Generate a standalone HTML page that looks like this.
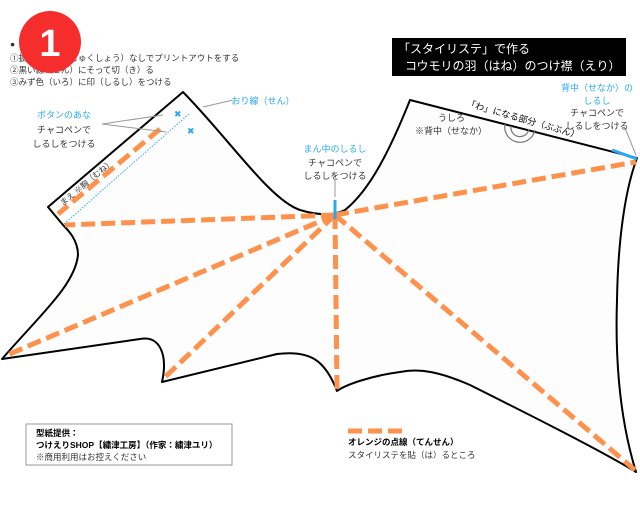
<!DOCTYPE html>
<html><head><meta charset="utf-8"><style>
body{margin:0;background:#fff;}
svg{display:block;font-family:"Liberation Sans","Noto Sans CJK JP",sans-serif;}
</style></head><body>
<svg width="640" height="512" viewBox="0 0 640 512">
<path d="M48,207 L183,92 C230,140 270,200 300,210 C320,216 335,215 345,210 C370,190 390,150 410,100 L637,158 C625,190 618,240 617,300 C615,360 620,420 636,472 C600,450 520,410 470,385 C440,372 420,368 400,372 C370,376 345,385 337,391 C325,360 310,350 277,354 L162,382 C168,355 160,335 140,339 L2,359 C40,315 75,285 78,255 C78,240 68,230 63,225 Z" fill="#fdfdfd" stroke="#000" stroke-width="2" stroke-linejoin="round"/>
<line x1="64" y1="224" x2="190" y2="113" stroke="#2aa8f2" stroke-width="1" stroke-dasharray="1.5,1.5"/>
<g stroke="#fe914c" stroke-width="5" stroke-dasharray="14,6" fill="none">
<line x1="160" y1="129" x2="58" y2="214"/>
<line x1="335" y1="215" x2="65" y2="225"/>
<line x1="335" y1="215" x2="5" y2="356"/>
<line x1="335" y1="215" x2="162" y2="380"/>
<line x1="335" y1="215" x2="337" y2="390"/>
<line x1="335" y1="215" x2="635" y2="470"/>
<line x1="335" y1="215" x2="636" y2="162"/>
<line x1="348" y1="431" x2="404" y2="431"/>
</g>
<line x1="335" y1="200" x2="335" y2="219" stroke="#2aa8f2" stroke-width="3"/>
<line x1="612" y1="150" x2="637" y2="159" stroke="#2aa8f2" stroke-width="3"/>
<text x="174" y="117" font-size="9" fill="#2aa8f2">✖</text>
<text x="187" y="134" font-size="9" fill="#2aa8f2">✖</text>
<g stroke="#999" stroke-width="1">
<line x1="335" y1="180" x2="335" y2="197"/>
<line x1="203" y1="107" x2="233" y2="100"/>
<line x1="102" y1="124" x2="163" y2="115"/>
<line x1="102" y1="124" x2="166" y2="132"/>
<line x1="625" y1="128" x2="636" y2="155"/>
</g>
<path d="M505,124 A15,15 0 0 0 535,130" fill="none" stroke="#777" stroke-width="1.2"/>
<path d="M511,126 A9,9 0 0 0 529,129" fill="none" stroke="#777" stroke-width="1.2"/>
<rect x="392" y="38" width="234" height="38" fill="#000"/>
<text x="398" y="53" font-size="12" fill="#fff">「スタイリステ」で作る</text>
<text x="405" y="70" font-size="12" fill="#fff">コウモリの羽（はね）のつけ襟（えり）</text>
<g font-size="8.5" fill="#333">
<text x="10" y="47">●</text>
<text x="10" y="61">①拡大・縮小（しゅくしょう）なしでプリントアウトをする</text>
<text x="10" y="73">②黒い線（せん）にそって切（き）る</text>
<text x="10" y="85">③みず色（いろ）に印（しるし）をつける</text>
</g>
<circle cx="50" cy="42" r="31" fill="#f52d2d"/>
<text x="50" y="56" font-size="38" font-weight="bold" fill="#fff" text-anchor="middle">1</text>
<g font-size="9" text-anchor="middle">
<text x="263" y="104" fill="#2aa8f2">おり線（せん）</text>
<text x="64" y="118" fill="#2aa8f2">ボタンのあな</text>
<text x="64" y="133" fill="#333">チャコペンで</text>
<text x="64" y="147" fill="#333">しるしをつける</text>
<text x="335" y="152" fill="#2aa8f2">まん中のしるし</text>
<text x="335" y="166" fill="#333">チャコペンで</text>
<text x="335" y="179" fill="#333">しるしをつける</text>
<text x="597" y="91" fill="#2aa8f2">背中（せなか）の</text>
<text x="597" y="104" fill="#2aa8f2">しるし</text>
<text x="597" y="116" fill="#333">チャコペンで</text>
<text x="597" y="129" fill="#333">しるしをつける</text>
</g>
<text x="0" y="0" font-size="9" fill="#000" transform="translate(466,106) rotate(16)">「わ」になる部分（ぶぶん）</text>
<text x="438" y="121" font-size="9" fill="#333">うしろ</text>
<text x="415" y="134" font-size="9" fill="#333">※背中（せなか）</text>
<text x="0" y="0" font-size="8" fill="#333" transform="translate(63,206) rotate(-40)">まえ ※胸（むね）</text>
<rect x="26" y="424" width="206" height="41" fill="#fff" stroke="#999" stroke-width="1"/>
<g font-size="8.5">
<text x="36" y="436" font-weight="bold" fill="#000">型紙提供：</text>
<text x="36" y="448" font-weight="bold" fill="#000">つけえりSHOP【繍津工房】（作家：繍津ユリ）</text>
<text x="36" y="460" fill="#333">※商用利用はお控えください</text>
<text x="348" y="445" font-weight="bold" fill="#000">オレンジの点線（てんせん）</text>
<text x="348" y="458" fill="#333">スタイリステを貼（は）るところ</text>
</g>
</svg>
</body></html>
